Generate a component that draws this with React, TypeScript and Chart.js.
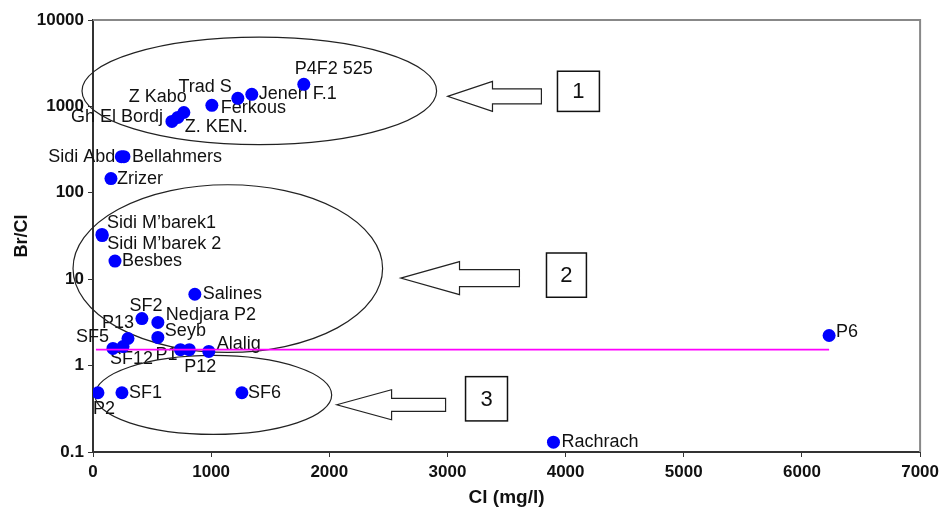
import React, { useEffect, useRef } from "react";
import { Chart, registerables } from "chart.js";

Chart.register(...registerables);

// ---------------- data ----------------
const sites = [
  "P4F2 525", "Jenen F.1", "Trad S", "Ferkous", "Z Kabo", "Z. KEN.", "Gh El Bordj",
  "Sidi Abd", "Bellahmers", "Zrizer", "Sidi M’barek1", "Sidi M’barek 2", "Besbes",
  "Salines", "SF2", "Nedjara P2", "Seyb", "P13", "SF5", "SF12", "P1", "P12", "Alalig",
  "P2", "SF1", "SF6", "P6", "Rachrach",
];
const clValues = [
  1784, 1344, 1226, 1006, 769, 718, 668,
  240, 262, 152, 76, 78, 186,
  862, 414, 549, 549, 296, 169, 254, 740, 815, 980,
  42, 245, 1260, 6230, 3897,
];
const brClValues = [
  1800, 1380, 1240, 1030, 850, 745, 670,
  262, 262, 146, 33, 32, 16.2,
  6.7, 3.5, 3.16, 2.12, 2.06, 1.58, 1.66, 1.53, 1.53, 1.46,
  0.485, 0.485, 0.485, 2.23, 0.13,
];
const refLineX = [25, 6230];
const refLineY = [1.53, 1.53];

const xTicks = [0, 1000, 2000, 3000, 4000, 5000, 6000, 7000];
const yTicks = [0.1, 1, 10, 100, 1000, 10000];

// group annotations (data units)
const groupNames = ["1", "2", "3"];
const ellipseXMin = [-93, -169, 17];
const ellipseXMax = [2908, 2451, 2020];
const ellipseYMax = [6330, 124, 1.31];
const ellipseYMin = [361, 1.42, 0.16];
const arrowTipX = [3001, 2604, 2063];
const arrowHeadX = [3381, 3102, 2527];
const arrowTailX = [3795, 3609, 2984];
const arrowY = [1307, 10.3, 0.352];
const boxXMin = [3931, 3838, 3153];
const boxXMax = [4286, 4176, 3508];
const boxYMax = [2553, 20.1, 0.745];
const boxYMin = [875, 6.18, 0.229];

// label placement (style), keyed by site
const labelPlace: Record<string, [CanvasTextAlign, number, number]> = {
  "P4F2 525": ["left", -9, -15],
  "Jenen F.1": ["left", 7, 0],
  "Trad S": ["right", -6, -11],
  "Ferkous": ["left", 9, 3],
  "Z Kabo": ["right", 3, -15],
  "Z. KEN.": ["left", 7, 10],
  "Gh El Bordj": ["right", -9, -4],
  "Sidi Abd": ["right", -6, 0],
  "Bellahmers": ["left", 8, 0],
  "Zrizer": ["left", 6, 0],
  "Sidi M’barek1": ["left", 5, -11],
  "Sidi M’barek 2": ["left", 5, 8],
  "Besbes": ["left", 7, 0],
  "Salines": ["left", 8, 0],
  "SF2": ["center", 4, -13],
  "Nedjara P2": ["left", 8, -7],
  "Seyb": ["left", 7, -6],
  "P13": ["right", 6, -15],
  "SF5": ["right", -4, -11],
  "SF12": ["left", -13, 12],
  "P1": ["right", -3, 5],
  "P12": ["left", -5, 17],
  "Alalig": ["left", 8, -7],
  "P2": ["left", -5, 16],
  "SF1": ["left", 7, 0],
  "SF6": ["left", 6, 0],
  "P6": ["left", 7, -3],
  "Rachrach": ["left", 8, 0],
};

const FONT = "'Liberation Sans', Arial, sans-serif";

const annotationPlugin = {
  id: "groupAnnotations",
  beforeDatasetsDraw(chart: any) {
    const { ctx, chartArea, scales } = chart;
    const xs = scales.x;
    const ys = scales.y;
    ctx.save();
    // frame (top / right)
    ctx.strokeStyle = "#888";
    ctx.lineWidth = 2;
    ctx.beginPath();
    ctx.moveTo(chartArea.left, chartArea.top);
    ctx.lineTo(chartArea.right, chartArea.top);
    ctx.lineTo(chartArea.right, chartArea.bottom);
    ctx.stroke();

    // point labels
    ctx.fillStyle = "#111";
    ctx.font = `18px ${FONT}`;
    ctx.textBaseline = "middle";
    sites.forEach((name, i) => {
      const px = xs.getPixelForValue(clValues[i]);
      const py = ys.getPixelForValue(brClValues[i]);
      const [align, dx, dy] = labelPlace[name] || ["left", 8, 0];
      ctx.textAlign = align;
      ctx.fillText(name, px + dx, py + dy);
    });

    // ellipses
    ctx.strokeStyle = "#222";
    ctx.lineWidth = 1.2;
    groupNames.forEach((g, i) => {
      const x1 = xs.getPixelForValue(ellipseXMin[i]);
      const x2 = xs.getPixelForValue(ellipseXMax[i]);
      const y1 = ys.getPixelForValue(ellipseYMax[i]);
      const y2 = ys.getPixelForValue(ellipseYMin[i]);
      ctx.beginPath();
      ctx.ellipse((x1 + x2) / 2, (y1 + y2) / 2, (x2 - x1) / 2, (y2 - y1) / 2, 0, 0, Math.PI * 2);
      ctx.stroke();
    });

    // arrows
    const headHalf = [15, 16.5, 15];
    const shaftHalf = [7.5, 8.5, 6.5];
    groupNames.forEach((g, i) => {
      const tx = xs.getPixelForValue(arrowTipX[i]);
      const hx = xs.getPixelForValue(arrowHeadX[i]);
      const ex = xs.getPixelForValue(arrowTailX[i]);
      const y = ys.getPixelForValue(arrowY[i]);
      ctx.beginPath();
      ctx.moveTo(tx, y);
      ctx.lineTo(hx, y - headHalf[i]);
      ctx.lineTo(hx, y - shaftHalf[i]);
      ctx.lineTo(ex, y - shaftHalf[i]);
      ctx.lineTo(ex, y + shaftHalf[i]);
      ctx.lineTo(hx, y + shaftHalf[i]);
      ctx.lineTo(hx, y + headHalf[i]);
      ctx.closePath();
      ctx.fillStyle = "#fff";
      ctx.fill();
      ctx.strokeStyle = "#222";
      ctx.lineWidth = 1.2;
      ctx.stroke();
    });

    // boxes
    groupNames.forEach((g, i) => {
      const x1 = xs.getPixelForValue(boxXMin[i]);
      const x2 = xs.getPixelForValue(boxXMax[i]);
      const y1 = ys.getPixelForValue(boxYMax[i]);
      const y2 = ys.getPixelForValue(boxYMin[i]);
      ctx.strokeStyle = "#111";
      ctx.lineWidth = 1.5;
      ctx.strokeRect(x1, y1, x2 - x1, y2 - y1);
      ctx.fillStyle = "#111";
      ctx.font = `22px ${FONT}`;
      ctx.textAlign = "center";
      ctx.textBaseline = "middle";
      ctx.fillText(g, (x1 + x2) / 2, (y1 + y2) / 2 + 1);
    });
    ctx.restore();
  },
};

export default function App() {
  const canvasRef = useRef<HTMLCanvasElement | null>(null);

  useEffect(() => {
    if (!canvasRef.current) return;
    const points = clValues.map((x, i) => ({ x, y: brClValues[i] }));
    const refLine = refLineX.map((x, i) => ({ x, y: refLineY[i] }));
    const chart = new Chart(canvasRef.current, {
      type: "scatter",
      data: {
        datasets: [
          {
            type: "line",
            label: "threshold",
            data: refLine,
            borderColor: "#ff00ff",
            borderWidth: 1.6,
            pointRadius: 0,
            fill: false,
          } as any,
          {
            label: "Br/Cl",
            data: points,
            backgroundColor: "#0000ff",
            borderColor: "#0000ff",
            pointRadius: 6.5,
            pointBorderWidth: 0,
          },
        ],
      },
      options: {
        responsive: false,
        animation: false,
        layout: { padding: { top: 20, right: 23, left: 0, bottom: 0 } },
        plugins: {
          legend: { display: false },
          tooltip: { enabled: false },
        },
        scales: {
          x: {
            type: "linear",
            min: 0,
            max: 7000,
            afterBuildTicks: (s: any) => {
              s.ticks = xTicks.map((v) => ({ value: v }));
            },
            afterFit: (s: any) => {
              s.height = 60;
            },
            grid: { drawOnChartArea: false, drawTicks: true, tickLength: 5, color: "#333" },
            border: { display: true, color: "#333", width: 2 },
            ticks: {
              color: "#111",
              font: { family: FONT, size: 17, weight: "bold" },
              padding: 5,
              maxRotation: 0,
              callback: (v: any) => String(v),
            },
            title: {
              display: true,
              text: "Cl (mg/l)",
              color: "#111",
              font: { family: FONT, size: 19, weight: "bold" },
              padding: { top: 0, bottom: 3 },
            },
          },
          y: {
            type: "logarithmic",
            min: 0.1,
            max: 10000,
            afterBuildTicks: (s: any) => {
              s.ticks = yTicks.map((v) => ({ value: v }));
            },
            afterFit: (s: any) => {
              s.width = 93;
            },
            grid: { drawOnChartArea: false, drawTicks: true, tickLength: 5, color: "#333" },
            border: { display: true, color: "#333", width: 2 },
            ticks: {
              color: "#111",
              font: { family: FONT, size: 17, weight: "bold" },
              padding: 4,
              callback: (v: any) => String(v),
            },
            title: {
              display: true,
              text: "Br/Cl",
              color: "#111",
              font: { family: FONT, size: 18, weight: "bold" },
              padding: { top: 11, bottom: 0 },
            },
          },
        },
      },
      plugins: [annotationPlugin],
    });
    return () => chart.destroy();
  }, []);

  return (
    <div style={{ position: "fixed", left: 0, top: 0, width: 944, height: 512, background: "#fff" }}>
      <canvas ref={canvasRef} width={944} height={512} style={{ display: "block", width: 944, height: 512 }} />
    </div>
  );
}
